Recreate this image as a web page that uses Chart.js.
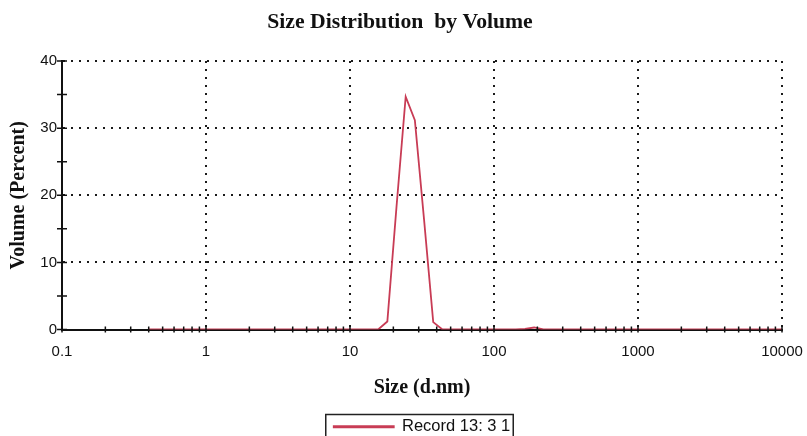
<!DOCTYPE html>
<html>
<head>
<meta charset="utf-8">
<title>Size Distribution by Volume</title>
<script src="https://cdn.jsdelivr.net/npm/chart.js@4.4.0/dist/chart.umd.min.js"></script>
<style>
  html, body { margin: 0; padding: 0; background: #fff; }
  #wrap { width: 807px; height: 436px; }
</style>
</head>
<body>
<div id="wrap"><canvas id="myChart"></canvas></div>
<script>
// size bins (d.nm)
const sizes = [0.4, 0.4632, 0.5365, 0.6213, 0.7195, 0.8332, 0.9649, 1.117, 1.294, 1.499,
    1.736, 2.01, 2.328, 2.696, 3.122, 3.615, 4.187, 4.849, 5.615, 6.503,
    7.531, 8.721, 10.1, 11.7, 13.54, 15.69, 18.17, 21.04, 24.36, 28.21,
    32.67, 37.84, 43.82, 50.75, 58.77, 68.06, 78.82, 91.28, 105.7, 122.4,
    141.8, 164.2, 190.1, 220.2, 255, 295.3, 342, 396.1, 458.7, 531.2,
    615.1, 712.4, 825, 955.4, 1106, 1281, 1484, 1718, 1990, 2305,
    2669, 3091, 3580, 4145, 4801, 5560, 6439, 7456, 8635, 10000];

// volume (percent)
const volume = [0, 0, 0, 0, 0, 0, 0, 0, 0, 0,
    0, 0, 0, 0, 0, 0, 0, 0, 0, 0,
    0, 0, 0, 0, 0, 0, 1.2, 18.3, 34.7, 31.2,
    16.4, 1.1, 0, 0, 0, 0, 0, 0, 0, 0,
    0, 0.1, 0.3, 0, 0, 0, 0, 0, 0, 0,
    0, 0, 0, 0, 0, 0, 0, 0, 0, 0,
    0, 0, 0, 0, 0, 0, 0, 0, 0, 0];

const xMajorTicks = [0.1, 1, 10, 100, 1000, 10000];
const xMajorLabels = ['0.1', '1', '10', '100', '1000', '10000'];
const yMin = 0;
const yMax = 40;
const yStep = 5;

const lineColor = '#c83c55';
const gridColor = '#1a1a1a';

// x ticks: decades plus 2..9 in between
function buildXTicks() {
    let ticks = [];
    for (let i = 0; i < xMajorTicks.length; i++) {
        ticks.push({ value: xMajorTicks[i], major: true, label: xMajorLabels[i] });
        if (i < xMajorTicks.length - 1) {
            for (let m = 2; m <= 9; m++) {
                ticks.push({ value: xMajorTicks[i] * m, major: false, label: '' });
            }
        }
    }
    return ticks;
}

// little cross marks on both axes
const crossTicks = {
    id: 'crossTicks',
    afterDatasetsDraw(chart) {
        const ctx = chart.ctx;
        const xs = chart.scales.x;
        const ys = chart.scales.y;
        ctx.save();
        ctx.strokeStyle = '#111';
        ctx.lineWidth = 1.5;
        ctx.beginPath();
        xs.ticks.forEach(t => {
            const px = xs.getPixelForValue(t.value);
            ctx.moveTo(px, ys.bottom - 3);
            ctx.lineTo(px, ys.bottom + 3);
        });
        ys.ticks.forEach(t => {
            const py = ys.getPixelForValue(t.value);
            ctx.moveTo(xs.left - 5, py);
            ctx.lineTo(xs.left + 5, py);
        });
        ctx.stroke();
        ctx.restore();
    }
};

// box round the legend
const legendBorder = {
    id: 'legendBorder',
    afterDraw(chart) {
        const hb = chart.legend && chart.legend.legendHitBoxes[0];
        if (!hb) return;
        const ctx = chart.ctx;
        ctx.save();
        ctx.strokeStyle = '#222';
        ctx.lineWidth = 1.5;
        ctx.strokeRect(hb.left - 8, hb.top - 4, hb.width + 11, 40);
        ctx.restore();
    }
};

const myChart = new Chart(document.getElementById('myChart'), {
    type: 'line',
    data: {
        datasets: [{
            label: 'Record 13: 3 1',
            data: sizes.map((s, i) => ({ x: s, y: volume[i] })),
            borderColor: lineColor,
            backgroundColor: '#8a2a38',
            borderWidth: 1.8,
            pointRadius: 0,
            tension: 0,
            fill: false
        }]
    },
    plugins: [crossTicks, legendBorder],
    options: {
        responsive: true,
        maintainAspectRatio: false,
        animation: false,
        layout: {
            padding: { left: 18, right: 25, top: 0, bottom: -9 }
        },
        plugins: {
            title: {
                display: true,
                text: 'Size Distribution  by Volume',
                color: '#111',
                font: { family: 'Liberation Serif', size: 21.7, weight: 'bold' },
                padding: { top: 9, bottom: 26 }
            },
            legend: {
                display: true,
                position: 'bottom',
                fullSize: false,
                labels: {
                    boxWidth: 60,
                    boxHeight: 1,
                    padding: 6,
                    color: '#111',
                    font: { family: 'Liberation Sans', size: 16.5 }
                }
            },
            tooltip: { enabled: false }
        },
        scales: {
            x: {
                type: 'logarithmic',
                min: 0.1,
                max: 10000,
                afterBuildTicks: (scale) => { scale.ticks = buildXTicks(); },
                afterFit: (scale) => {
                    scale.height = 83;
                    scale.paddingLeft = 0;
                    scale.paddingRight = 0;
                },
                ticks: {
                    autoSkip: false,
                    maxRotation: 0,
                    padding: 13,
                    color: '#111',
                    font: { family: 'Liberation Sans', size: 15 },
                    callback: function (value, index, ticks) {
                        return ticks[index].label;
                    }
                },
                grid: {
                    drawTicks: false,
                    lineWidth: 2,
                    color: (c) => (c.tick && c.tick.major && c.index > 0) ? gridColor : 'rgba(0,0,0,0)'
                },
                border: { display: true, color: '#111', width: 2, dash: [2, 6] },
                title: {
                    display: true,
                    text: 'Size (d.nm)',
                    color: '#111',
                    font: { family: 'Liberation Serif', size: 20, weight: 'bold' },
                    padding: { top: 0, bottom: 13 }
                }
            },
            y: {
                min: yMin,
                max: yMax,
                afterFit: (scale) => { scale.width = 44; },
                ticks: {
                    stepSize: yStep,
                    padding: 5,
                    color: '#111',
                    font: { family: 'Liberation Sans', size: 15 },
                    callback: (value) => (value % 10 === 0 ? value : '')
                },
                grid: {
                    drawTicks: false,
                    lineWidth: 2,
                    color: (c) => (c.tick && c.tick.value % 10 === 0 && c.tick.value > 0) ? gridColor : 'rgba(0,0,0,0)'
                },
                border: { display: true, color: '#111', width: 2, dash: [2, 6] },
                title: {
                    display: true,
                    text: 'Volume (Percent)',
                    color: '#111',
                    font: { family: 'Liberation Serif', size: 20, weight: 'bold' },
                    padding: { top: -11, bottom: 0 }
                }
            }
        }
    }
});
</script>
</body>
</html>
